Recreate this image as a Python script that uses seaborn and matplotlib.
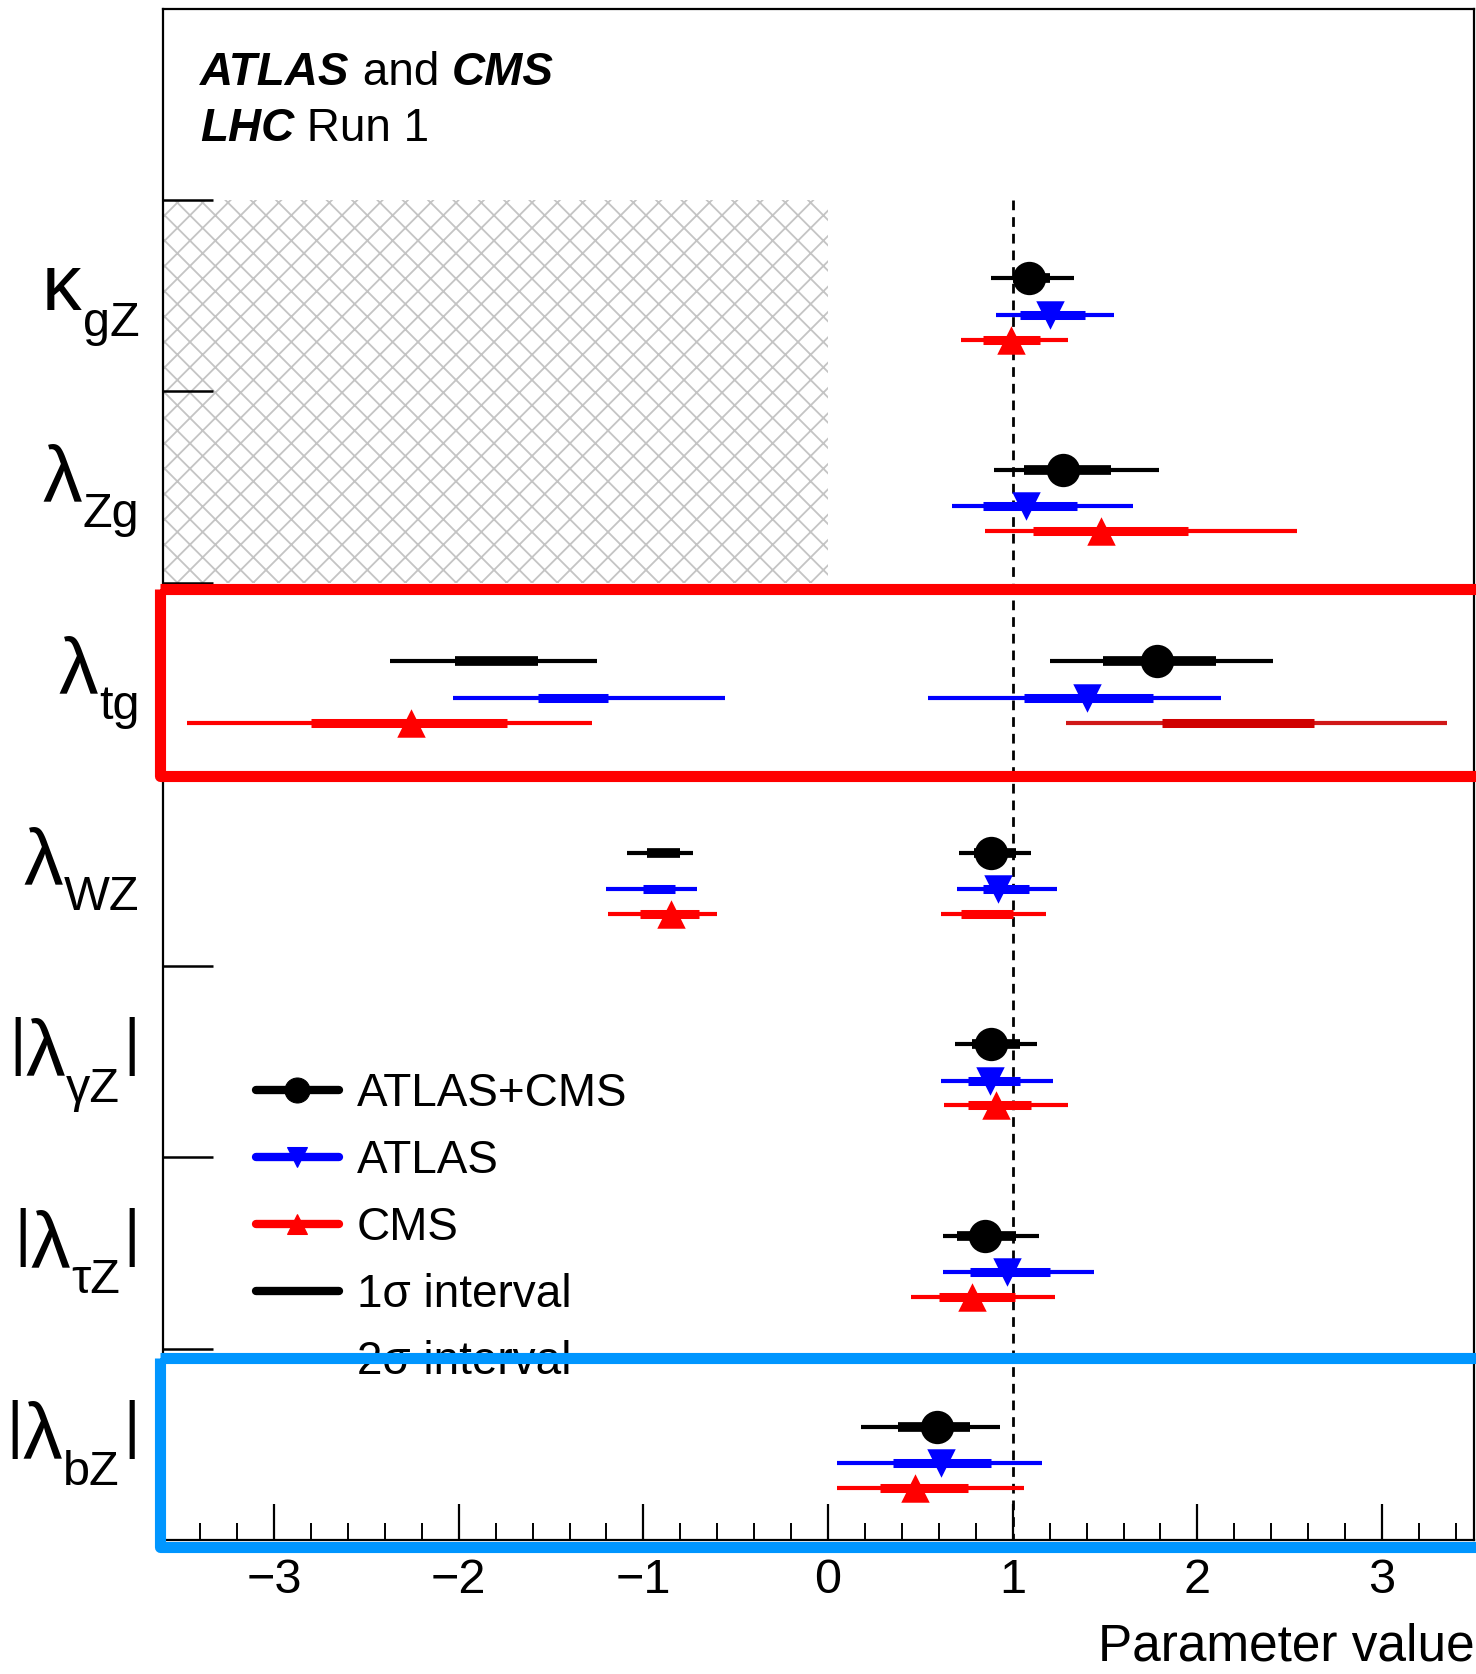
import numpy as np
import pandas as pd
import matplotlib
matplotlib.use("Agg")
import matplotlib.pyplot as plt
import seaborn as sns
from matplotlib.patches import Rectangle
from matplotlib.lines import Line2D
from matplotlib.ticker import MultipleLocator
from matplotlib import transforms

# ---------------- data ----------------
param_pre = ["", "", "", "", "|", "|", "|"]
param_main = ["\u03ba", "\u03bb", "\u03bb", "\u03bb", "\u03bb", "\u03bb", "\u03bb"]
param_sub = ["gZ", "Zg", "tg", "WZ", "\u03b3Z", "\u03c4Z", "bZ"]
param_post = ["", "", "", "", "|", "|", "|"]

experiments = ["ATLAS+CMS", "ATLAS", "CMS"]

# best-fit values (one per parameter)
comb_best = [1.09, 1.27, 1.78, 0.88, 0.88, 0.85, 0.59]
atlas_best = [1.20, 1.07, 1.40, 0.92, 0.875, 0.97, 0.61]
cms_best = [0.99, 1.48, -2.26, -0.85, 0.91, 0.78, 0.47]

# 1 sigma / 2 sigma intervals (row index, low, high)
comb_1s_row = [0, 1, 2, 2, 3, 3, 4, 5, 6]
comb_1s_lo = [1.00, 1.06, -2.02, 1.49, -0.98, 0.79, 0.78, 0.70, 0.38]
comb_1s_hi = [1.20, 1.53, -1.57, 2.10, -0.80, 1.02, 1.04, 1.02, 0.77]
comb_2s_row = [0, 1, 2, 2, 3, 3, 4, 5, 6]
comb_2s_lo = [0.88, 0.90, -2.37, 1.20, -1.09, 0.71, 0.69, 0.62, 0.18]
comb_2s_hi = [1.33, 1.79, -1.25, 2.41, -0.73, 1.10, 1.13, 1.14, 0.93]

atlas_1s_row = [0, 1, 2, 2, 3, 3, 4, 5, 6]
atlas_1s_lo = [1.04, 0.84, -1.57, 1.06, -1.00, 0.84, 0.76, 0.77, 0.35]
atlas_1s_hi = [1.39, 1.35, -1.19, 1.76, -0.83, 1.09, 1.04, 1.20, 0.88]
atlas_2s_row = [0, 1, 2, 2, 3, 3, 4, 5, 6]
atlas_2s_lo = [0.91, 0.67, -2.03, 0.54, -1.20, 0.70, 0.61, 0.62, 0.05]
atlas_2s_hi = [1.55, 1.65, -0.56, 2.13, -0.71, 1.24, 1.22, 1.44, 1.16]

cms_1s_row = [0, 1, 2, 2, 3, 3, 4, 5, 6]
cms_1s_lo = [0.84, 1.11, -2.80, 1.81, -1.02, 0.72, 0.76, 0.60, 0.28]
cms_1s_hi = [1.15, 1.95, -1.74, 2.63, -0.70, 1.00, 1.10, 1.01, 0.76]
cms_2s_row = [0, 1, 2, 2, 3, 3, 4, 5, 6]
cms_2s_lo = [0.72, 0.85, -3.47, 1.29, -1.19, 0.61, 0.63, 0.45, 0.05]
cms_2s_hi = [1.30, 2.54, -1.28, 3.35, -0.60, 1.18, 1.30, 1.23, 1.06]

xticks = [-3, -2, -1, 0, 1, 2, 3]
legend_labels = ["ATLAS+CMS", "ATLAS", "CMS", "1\u03c3 interval", "2\u03c3 interval"]

# ---------------- style ----------------
DPI = 76
K = 100.0 / DPI          # point-size scale so sizes read as at 100 dpi


def P(v):
    return v * K


sns.set_theme(style="ticks")
plt.rcParams["font.family"] = ["Liberation Sans", "DejaVu Sans"]
for key in ["text.color", "axes.labelcolor", "xtick.color", "ytick.color", "axes.edgecolor"]:
    plt.rcParams[key] = "black"
plt.rcParams["hatch.linewidth"] = P(1.3)

offsets = {"ATLAS+CMS": 0.41, "ATLAS": 0.60, "CMS": 0.73}
colors = {"ATLAS+CMS": "black", "ATLAS": "#0000ff", "CMS": "#ff0000"}
markers = {"ATLAS+CMS": "o", "ATLAS": "v", "CMS": "^"}
msizes = {"ATLAS+CMS": 24, "ATLAS": 20.5, "CMS": 20.5}
lw_1s = {"ATLAS+CMS": 7.0, "ATLAS": 6.5, "CMS": 6.5}
lw_2s = 3.0

W, H = 1476, 1674
fig = plt.figure(figsize=(W / DPI, H / DPI), dpi=DPI)
ax = fig.add_axes([163.3 / W, (H - 1540) / H, (1474.4 - 163.3) / W, (1540 - 8.5) / H])
ax.set_xlim(-3.6, 3.5)
ax.set_ylim(7, -1)

# hatched excluded region
ax.add_patch(Rectangle((-3.6, 0), 3.6, 2, fill=False, hatch="x",
                       edgecolor="#c4c4c4", lw=0, zorder=0.5))

# dashed SM line
ax.plot([1, 1], [0, 7], color="black", lw=P(2.0), ls=(0, (3.5, 2.5)), zorder=1)

seg_sets = {
    "ATLAS+CMS": (comb_1s_row, comb_1s_lo, comb_1s_hi, comb_2s_row, comb_2s_lo, comb_2s_hi),
    "ATLAS": (atlas_1s_row, atlas_1s_lo, atlas_1s_hi, atlas_2s_row, atlas_2s_lo, atlas_2s_hi),
    "CMS": (cms_1s_row, cms_1s_lo, cms_1s_hi, cms_2s_row, cms_2s_lo, cms_2s_hi),
}

for exp in experiments:
    r1, lo1, hi1, r2, lo2, hi2 = seg_sets[exp]
    col = colors[exp]
    y2 = np.array(r2) + offsets[exp]
    y1 = np.array(r1) + offsets[exp]
    cols2 = [col] * len(r2)
    cols1 = [col] * len(r1)
    if exp == "CMS":
        cols2[3] = "#d01818"
        cols1[3] = "#d00000"
    ax.hlines(y2, lo2, hi2, colors=cols2, lw=P(lw_2s), zorder=2)
    ax.hlines(y1, lo1, hi1, colors=cols1, lw=P(lw_1s[exp]), zorder=3)

best = pd.DataFrame({
    "value": comb_best + atlas_best + cms_best,
    "row": list(range(7)) * 3,
    "exp": ["ATLAS+CMS"] * 7 + ["ATLAS"] * 7 + ["CMS"] * 7,
})
best["y"] = best["row"] + best["exp"].map(offsets)
for exp in experiments:
    sub = best[best["exp"] == exp]
    sns.scatterplot(data=sub, x="value", y="y", ax=ax, color=colors[exp],
                    marker=markers[exp], s=P(msizes[exp]) ** 2, linewidth=0,
                    legend=False, zorder=4)

# axes cosmetics
ax.set_xticks(xticks)
ax.xaxis.set_minor_locator(MultipleLocator(0.2))
ax.set_yticks(range(7))
ax.set_yticklabels([])
ax.tick_params(axis="x", which="major", direction="in", length=P(26), width=P(1.6),
               labelsize=P(35), pad=P(13), top=False)
ax.tick_params(axis="x", which="minor", direction="in", length=P(12), width=P(1.4),
               top=False)
ax.tick_params(axis="y", which="major", direction="in", length=P(36), width=P(1.8),
               labelleft=False, right=False)
for s in ax.spines.values():
    s.set_linewidth(P(1.6))
    s.set_color("black")
ax.set_xlabel("Parameter value", fontsize=P(37), loc="right", labelpad=P(14))
ax.set_ylabel("")

# header
hs = P(33)
t1 = ax.text(-3.40, -0.598, "ATLAS", fontsize=hs, fontweight="bold",
             fontstyle="italic", va="baseline", ha="left")
t2 = ax.annotate(" and ", xy=(1, 0), xycoords=t1, fontsize=hs, va="bottom", ha="left")
t3 = ax.annotate("CMS", xy=(1, 0), xycoords=t2, fontsize=hs, fontweight="bold",
                 fontstyle="italic", va="bottom", ha="left")
t4 = ax.text(-3.40, -0.306, "LHC", fontsize=hs, fontweight="bold",
             fontstyle="italic", va="baseline", ha="left")
t5 = ax.annotate(" Run 1", xy=(1, 0), xycoords=t4, fontsize=hs, va="bottom", ha="left")

# parameter labels (main glyph + lowered subscript), right-aligned left of the axis
fig.canvas.draw()
renderer = fig.canvas.get_renderer()
main_fs, sub_fs, bar_fs = P(57), P(35), P(45)
sub_drop = 26      # pixels below main baseline
bar_lift = 13      # pixels: keep bars sitting on the baseline
right_gap = 24     # pixels between label end and axis
ytr = ax.get_yaxis_transform()


def text_width(s, fs):
    t = fig.text(0, 0, s, fontsize=fs)
    w = t.get_window_extent(renderer).width
    t.remove()
    return w


for i in range(7):
    parts = []
    if param_pre[i]:
        parts.append((param_pre[i], bar_fs, bar_lift, 0))
    parts.append((param_main[i], main_fs, 0, 0))
    parts.append((param_sub[i], sub_fs, -sub_drop, 1))
    if param_post[i]:
        parts.append((param_post[i], bar_fs, bar_lift, 3))
    widths = [text_width(p[0], p[1]) for p in parts]
    total = sum(widths) + sum(p[3] for p in parts)
    x = -right_gap - total
    ybase = i + 0.575
    for (s, fs, dy, g), w in zip(parts, widths):
        x += g
        tr = transforms.offset_copy(ytr, fig=fig, x=x, y=dy, units="dots")
        ax.text(0, ybase, s, fontsize=fs, transform=tr, ha="left", va="baseline",
                clip_on=False)
        x += w

# legend
handles = [
    Line2D([], [], color="black", lw=P(6), marker="o", ms=P(18)),
    Line2D([], [], color="#0000ff", lw=P(6), marker="v", ms=P(15)),
    Line2D([], [], color="#ff0000", lw=P(6), marker="^", ms=P(15)),
    Line2D([], [], color="black", lw=P(6)),
    Line2D([], [], color="black", lw=P(2.5)),
]
leg = ax.legend(handles, legend_labels, loc="upper left",
                bbox_to_anchor=(256 / W, 1 - 1072 / H), bbox_transform=fig.transFigure,
                frameon=False, fontsize=P(33), handlelength=1.8, handletextpad=0.4,
                labelspacing=0.5, borderpad=0, borderaxespad=0)
leg.set_zorder(6)

# highlight boxes
ax.add_patch(Rectangle((-3.62, 2.034), 7.5, 3.01 - 2.034, fill=False,
                       edgecolor="#ff0000", lw=P(8), clip_on=False, zorder=20,
                       joinstyle="round"))
ax.add_patch(Rectangle((-3.62, 6.05), 7.5, 7.036 - 6.05, fill=False,
                       edgecolor="#0096ff", lw=P(8), clip_on=False, zorder=20,
                       joinstyle="round"))

fig.savefig("out.png", dpi=DPI)
